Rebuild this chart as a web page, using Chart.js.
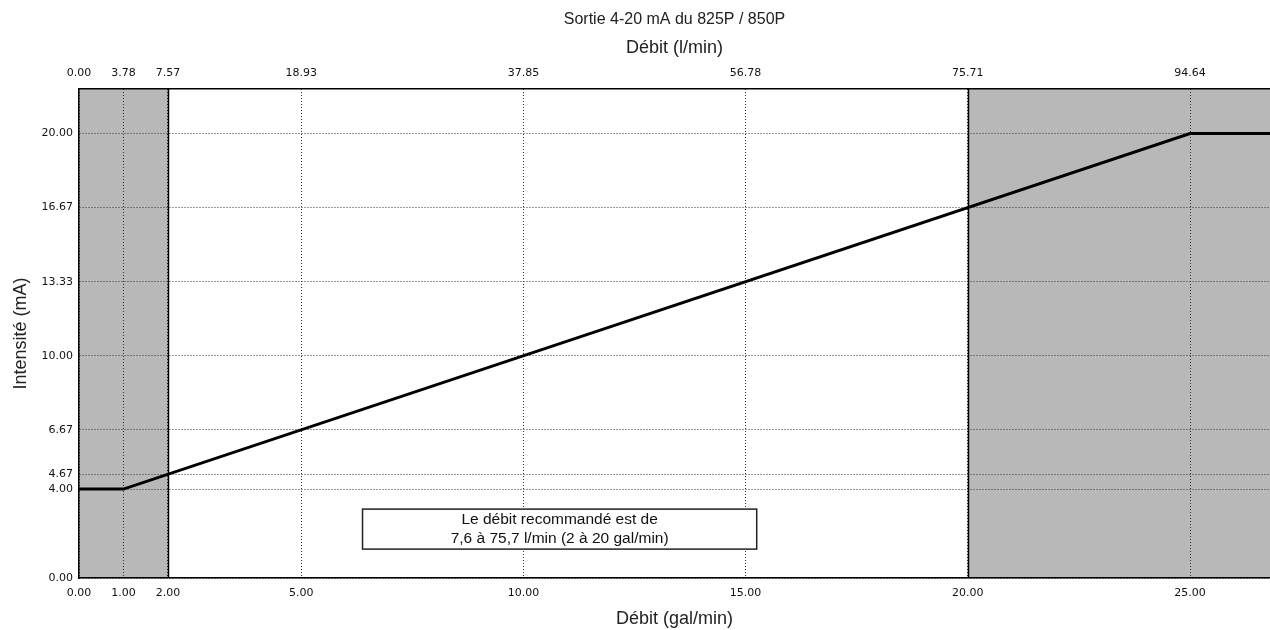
<!DOCTYPE html>
<html lang="fr">
<head>
    <meta charset="UTF-8">
    <title>Sortie 4-20 mA du 825P / 850P</title>
    <script src="https://cdn.jsdelivr.net/npm/chart.js"></script>
    <style>
        body {
            margin: 0;
            padding: 0;
            background-color: #fff;
        }

        .chart-container {
            position: relative;
            width: 1270px;
            height: 630px;
        }
    </style>
</head>
<body>
    <div class="chart-container">
        <canvas id="currentChart"></canvas>
    </div>

    <script>
        // Data for the chart
        const flowGal = [0, 1, 25, 26.8];   // débit (gal/min)
        const currentMa = [4, 4, 20, 20];   // intensité (mA)

        // Tick values and labels
        const galTicks = [0, 1, 2, 5, 10, 15, 20, 25];
        const galLabels = ["0.00", "1.00", "2.00", "5.00", "10.00", "15.00", "20.00", "25.00"];
        const litreLabels = ["0.00", "3.78", "7.57", "18.93", "37.85", "56.78", "75.71", "94.64"];
        const maTicks = [0, 4, 4.67, 6.67, 10, 13.33, 16.67, 20];
        const maLabels = ["0.00", "4.00", "4.67", "6.67", "10.00", "13.33", "16.67", "20.00"];

        // Zones outside the recommended range (gal/min)
        const shadedFrom = [0, 20];
        const shadedTo = [2, 26.8];

        const X_MAX = 26.8;
        const Y_MAX = 22;

        const chartTitle = "Sortie 4-20 mA du 825P / 850P";
        const noteLines = ["Le débit recommandé est de", "7,6 à 75,7 l/min (2 à 20 gal/min)"];
        const noteBox = { x0: 6.38, x1: 15.25, y0: 3.1, y1: 1.3 };

        const tickFont = { family: "'DejaVu Sans', sans-serif", size: 11 };
        const titleFont = { family: "'Liberation Sans', Arial, sans-serif", size: 18 };

        // grey zones drawn under the grid
        const zonesPlugin = {
            id: "zones",
            beforeDraw(chart) {
                const { ctx, chartArea, scales } = chart;
                ctx.save();
                ctx.fillStyle = "#b7b8b7";
                for (let i = 0; i < shadedFrom.length; i++) {
                    const x0 = scales.x.getPixelForValue(shadedFrom[i]);
                    const x1 = Math.min(scales.x.getPixelForValue(shadedTo[i]), chartArea.right);
                    ctx.fillRect(x0, chartArea.top, x1 - x0, chartArea.bottom - chartArea.top);
                }
                ctx.restore();
            },
            beforeDatasetsDraw(chart) {
                const { ctx, chartArea, scales } = chart;
                ctx.save();
                ctx.strokeStyle = "#000";
                ctx.lineWidth = 1.5;
                [shadedTo[0], shadedFrom[1]].forEach(v => {
                    const x = Math.round(scales.x.getPixelForValue(v)) + 0.5;
                    ctx.beginPath();
                    ctx.moveTo(x, chartArea.top);
                    ctx.lineTo(x, chartArea.bottom);
                    ctx.stroke();
                });
                ctx.restore();
            }
        };

        // title over the plot area + note box
        const notePlugin = {
            id: "note",
            afterDraw(chart) {
                const { ctx, scales, chartArea } = chart;
                ctx.save();
                ctx.fillStyle = "#222";
                ctx.font = "16px 'Liberation Sans', Arial, sans-serif";
                ctx.textAlign = "center";
                ctx.textBaseline = "middle";
                ctx.fillText(chartTitle, (chartArea.left + chartArea.right) / 2, 20);

                const x0 = scales.x.getPixelForValue(noteBox.x0);
                const x1 = scales.x.getPixelForValue(noteBox.x1);
                const y0 = scales.y.getPixelForValue(noteBox.y0);
                const y1 = scales.y.getPixelForValue(noteBox.y1);
                ctx.fillStyle = "#fff";
                ctx.fillRect(x0, y0, x1 - x0, y1 - y0);
                ctx.strokeStyle = "#222";
                ctx.lineWidth = 1.5;
                ctx.strokeRect(x0, y0, x1 - x0, y1 - y0);
                ctx.fillStyle = "#111";
                ctx.font = "15.5px 'Liberation Sans', Arial, sans-serif";
                const cx = (x0 + x1) / 2;
                const cy = (y0 + y1) / 2;
                ctx.fillText(noteLines[0], cx, cy - 9.5);
                ctx.fillText(noteLines[1], cx, cy + 9.5);
                ctx.restore();
            }
        };

        const setTicks = values => scale => {
            scale.ticks = values.map(v => ({ value: v }));
        };

        const ctx = document.getElementById("currentChart").getContext("2d");
        new Chart(ctx, {
            type: "line",
            data: {
                datasets: [{
                    label: "Intensité",
                    data: flowGal.map((x, i) => ({ x: x, y: currentMa[i] })),
                    borderColor: "#000",
                    borderWidth: 3,
                    pointRadius: 0,
                    tension: 0,
                    fill: false
                }]
            },
            options: {
                responsive: true,
                maintainAspectRatio: false,
                animation: false,
                layout: { padding: { top: 31.2 } },
                plugins: {
                    legend: { display: false },
                    tooltip: { enabled: false },
                    title: { display: false }
                },
                scales: {
                    x: {
                        type: "linear",
                        position: "bottom",
                        min: 0,
                        max: X_MAX,
                        afterBuildTicks: setTicks(galTicks),
                        afterFit: s => { s.height = 52; },
                        ticks: {
                            autoSkip: false,
                            maxRotation: 0,
                            padding: 9,
                            color: "#111",
                            font: tickFont,
                            callback: (v, i) => galLabels[i]
                        },
                        grid: { color: "#333", lineWidth: 1, drawTicks: false },
                        border: { display: true, color: "#000", width: 1.5, dash: [1, 2] },
                        title: {
                            display: true,
                            text: "Débit (gal/min)",
                            color: "#222",
                            font: titleFont,
                            padding: { top: 0, bottom: 0 }
                        }
                    },
                    x2: {
                        type: "linear",
                        position: "top",
                        min: 0,
                        max: X_MAX,
                        afterBuildTicks: setTicks(galTicks),
                        afterFit: s => { s.height = 57.8; },
                        ticks: {
                            autoSkip: false,
                            maxRotation: 0,
                            padding: 9,
                            color: "#111",
                            font: tickFont,
                            callback: (v, i) => litreLabels[i]
                        },
                        grid: { display: false, drawTicks: false },
                        border: { display: true, color: "#000", width: 1.5 },
                        title: {
                            display: true,
                            text: "Débit (l/min)",
                            color: "#222",
                            font: titleFont,
                            padding: { top: 6, bottom: 0 }
                        }
                    },
                    y: {
                        type: "linear",
                        min: 0,
                        max: Y_MAX,
                        afterBuildTicks: setTicks(maTicks),
                        afterFit: s => { s.width = 79; },
                        ticks: {
                            autoSkip: false,
                            padding: 6,
                            color: "#111",
                            font: tickFont,
                            callback: (v, i) => maLabels[i]
                        },
                        grid: { color: "#333", lineWidth: 1, drawTicks: false },
                        border: { display: true, color: "#000", width: 1.5, dash: [1, 2] },
                        title: {
                            display: true,
                            text: "Intensité (mA)",
                            color: "#222",
                            font: titleFont,
                            padding: { top: 10, bottom: 0 }
                        }
                    }
                }
            },
            plugins: [zonesPlugin, notePlugin]
        });
    </script>
</body>
</html>
